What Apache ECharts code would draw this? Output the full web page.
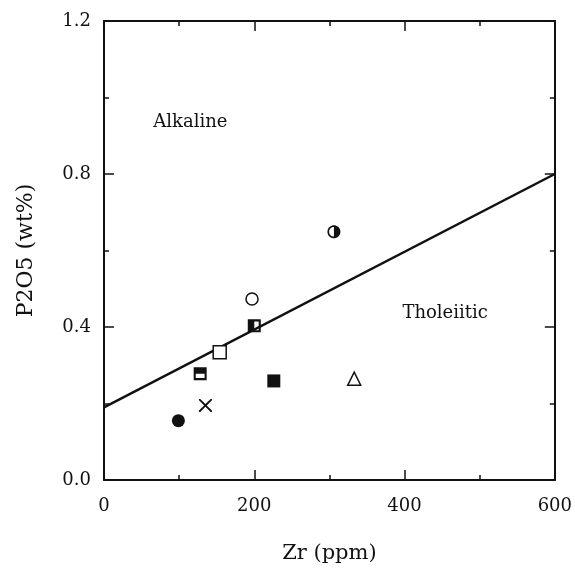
<!DOCTYPE html>
<html><head><meta charset="utf-8">
<script src="https://cdn.jsdelivr.net/npm/echarts@6/dist/echarts.min.js"></script>
<style>html,body{margin:0;padding:0;background:#fff}#c{width:575px;height:578px}</style>
</head><body><div id="c"></div>
<script>
// Data
const xTicks = [0, 200, 400, 600];
const yTicks = [0.0, 0.4, 0.8, 1.2];
const divideLine = [[0, 0.19], [600, 0.80]];
const filledCircle = [[99, 0.155]];
const crossPt = [[135, 0.195]];
const topHalfSquare = [[128, 0.278]];
const openSquare = [[154, 0.334]];
const leftHalfSquare = [[200, 0.403]];
const openCircle = [[197, 0.473]];
const filledSquare = [[226, 0.259]];
const openTriangle = [[333, 0.265]];
const halfCircle = [[306, 0.649]];
const regionLabels = [{ name: 'Alkaline', value: [115, 0.935] }, { name: 'Tholeiitic', value: [454, 0.437] }];

const FONT = '"DejaVu Serif", "Liberation Serif", serif';
const ink = '#111';

// symbol shapes (outer outline clockwise, holes counter-clockwise)
const pSquareLeftHalf = 'path://M0 0 H10 V10 H0 Z M5 1.6 V8.4 H8.4 V1.6 Z';
const pSquareTopHalf = 'path://M0 0 H10 V10 H0 Z M1.6 5 V8.4 H8.4 V5 Z';
function halfFilledCirclePath() {
  let s = 'path://';
  const N = 36;
  for (let i = 0; i < N; i++) {
    const a = i / N * Math.PI * 2;
    s += (i ? 'L' : 'M') + (5 + 5 * Math.cos(a)).toFixed(3) + ' ' + (5 + 5 * Math.sin(a)).toFixed(3) + ' ';
  }
  s += 'Z ';
  const r = 3.7, M = 18;
  for (let i = 0; i <= M; i++) {
    const a = Math.PI * 1.5 - i / M * Math.PI;
    s += (i ? 'L' : 'M') + (5 + r * Math.cos(a)).toFixed(3) + ' ' + (5 + r * Math.sin(a)).toFixed(3) + ' ';
  }
  s += 'Z';
  return s;
}
const pCircleRightHalf = halfFilledCirclePath();
const pCross = 'path://M0 0 L1 0 L5 4 L9 0 L10 0 L10 1 L6 5 L10 9 L10 10 L9 10 L5 6 L1 10 L0 10 L0 9 L4 5 L0 1 Z';

function pts(data, symbol, size, filled) {
  return {
    type: 'scatter', data: data, symbol: symbol, symbolSize: size, z: 5,
    itemStyle: filled ? { color: ink, opacity: 1 } : { color: '#fff', borderColor: ink, borderWidth: 1.5, opacity: 1 }
  };
}

const chart = echarts.init(document.getElementById('c'), null, { renderer: 'canvas' });
const axisCommon = {
  min: 0,
  axisLine: { show: true, onZero: false, lineStyle: { color: ink, width: 2 } },
  axisTick: { show: true, inside: true, length: 10, lineStyle: { color: ink, width: 1.5 } },
  minorTick: { show: true, splitNumber: 2, length: 5, lineStyle: { color: ink, width: 1.5 } },
  splitLine: { show: false }
};
chart.setOption({
  animation: false,
  backgroundColor: '#fff',
  grid: { left: 104, right: 13, top: 21, bottom: 98, containLabel: false },
  xAxis: [
    Object.assign({}, axisCommon, {
      type: 'value', position: 'bottom', max: 600, interval: 200,
      name: 'Zr (ppm)', nameLocation: 'middle', nameGap: 63,
      nameTextStyle: { fontFamily: FONT, fontSize: 21, color: ink },
      axisLabel: { margin: 17, fontFamily: FONT, fontSize: 18, color: ink,
        formatter: v => xTicks.indexOf(v) >= 0 ? String(v) : '' }
    }),
    Object.assign({}, axisCommon, {
      type: 'value', position: 'top', max: 600, interval: 200, axisLabel: { show: false }
    })
  ],
  yAxis: [
    Object.assign({}, axisCommon, {
      type: 'value', position: 'left', max: 1.2, interval: 0.4,
      name: 'P2O5 (wt%)', nameLocation: 'middle', nameGap: 67, nameRotate: 90,
      nameTextStyle: { fontFamily: FONT, fontSize: 22, color: ink },
      axisLabel: { margin: 13, fontFamily: FONT, fontSize: 18, color: ink,
        formatter: v => yTicks.some(t => Math.abs(t - v) < 1e-6) ? v.toFixed(1) : '' }
    }),
    Object.assign({}, axisCommon, {
      type: 'value', position: 'right', max: 1.2, interval: 0.4, axisLabel: { show: false }
    })
  ],
  series: [
    { type: 'line', data: divideLine, symbol: 'none', z: 3,
      lineStyle: { color: ink, width: 2.5 } },
    pts(filledCircle, 'circle', 13, true),
    pts(crossPt, pCross, 13, true),
    pts(topHalfSquare, pSquareTopHalf, 13, true),
    pts(openSquare, 'rect', 13, false),
    pts(leftHalfSquare, pSquareLeftHalf, 13, true),
    pts(openCircle, 'circle', 12, false),
    pts(filledSquare, 'rect', 13, true),
    pts(openTriangle, 'triangle', 13, false),
    pts(halfCircle, pCircleRightHalf, 13, true),
    { type: 'scatter', data: regionLabels, symbolSize: 0, silent: true,
      itemStyle: { opacity: 1 },
      label: { show: true, position: 'inside', formatter: p => p.name,
        fontFamily: FONT, fontSize: 18, color: ink, textBorderWidth: 0 } }
  ]
});
</script></body></html>
